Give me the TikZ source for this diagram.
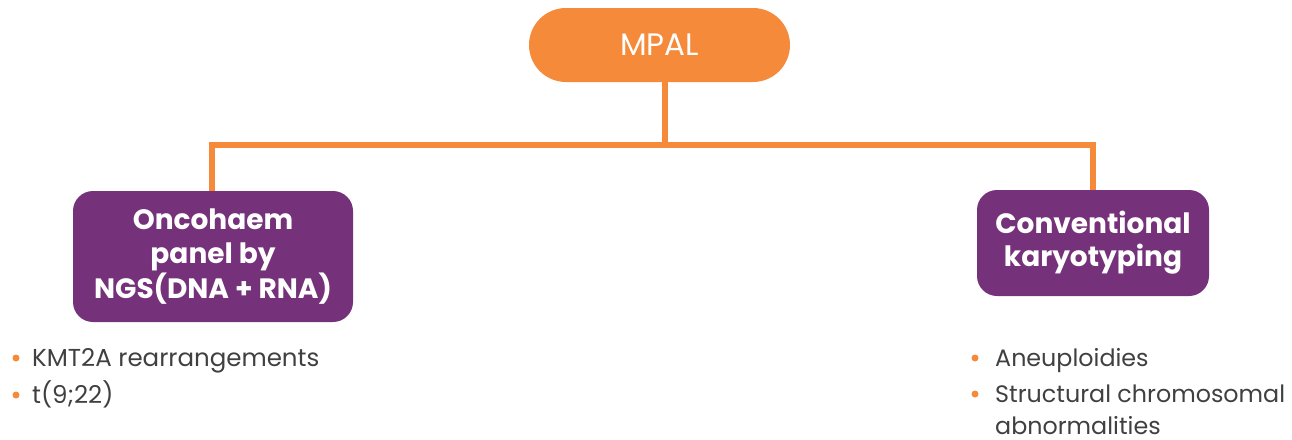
\documentclass[tikz,border=0pt]{standalone}
\usepackage{fontspec}
\setmainfont{Poppins}
\definecolor{orng}{HTML}{F58A3A}
\definecolor{purp}{HTML}{75327B}
\definecolor{txtg}{HTML}{404040}
\begin{document}
\begin{tikzpicture}[x=1pt,y=-1pt,
  conn/.style={draw=orng,line width=6.5pt},
  pbox/.style={fill=purp,rounded corners=20pt,text=white,font=\fontsize{28}{34.5}\selectfont\bfseries,align=center,inner sep=0pt},
  bul/.style={fill=orng,circle,inner sep=0pt,minimum size=7pt},
  btxt/.style={anchor=base west,text=txtg,font=\fontsize{24.5}{34}\selectfont,inner sep=0pt,align=left},
  rtxt/.style={btxt,font=\fontsize{23.8}{34}\selectfont}]
\useasboundingbox (0,0) rectangle (1292,439);
\node[fill=orng,rounded corners=37pt,minimum width=261pt,minimum height=74pt,inner sep=0pt,text=white,font=\fontsize{31}{34}\selectfont] (mpal) at (659.5,45) {MPAL};
\node[pbox,minimum width=280pt,minimum height=131pt] (left) at (213,256.5) {Oncohaem\\panel by\\NGS(DNA + RNA)};
\node[pbox,minimum width=232pt,minimum height=106pt,font=\fontsize{28}{33}\selectfont\bfseries] (right) at (1093,243) {Conventional\\karyotyping};
\coordinate (j) at (665,145);
\coordinate (jl) at (212,145);
\coordinate (jr) at (1093,145);
\draw[conn] (mpal.south -| j) -- (j);
\draw[conn,line join=miter] (left.north -| jl) -- (jl) -- (jr) -- (right.north -| jr);
\node[bul] (b1) at (16,358) {};
\node[btxt] (t1) at (32,366) {KMT2A rearrangements};
\node[bul] (b2) at (16,395) {};
\node[btxt] (t2) at (32,403) {t(9;22)};
\node[bul] (b3) at (975,358) {};
\node[rtxt] (t3) at (995,366) {Aneuploidies};
\node[bul] (b4) at (975,394) {};
\node[rtxt] (t4) at (995,402) {Structural chromosomal};
\node[rtxt] (t5) at (995,434) {abnormalities};
\end{tikzpicture}
\end{document}
